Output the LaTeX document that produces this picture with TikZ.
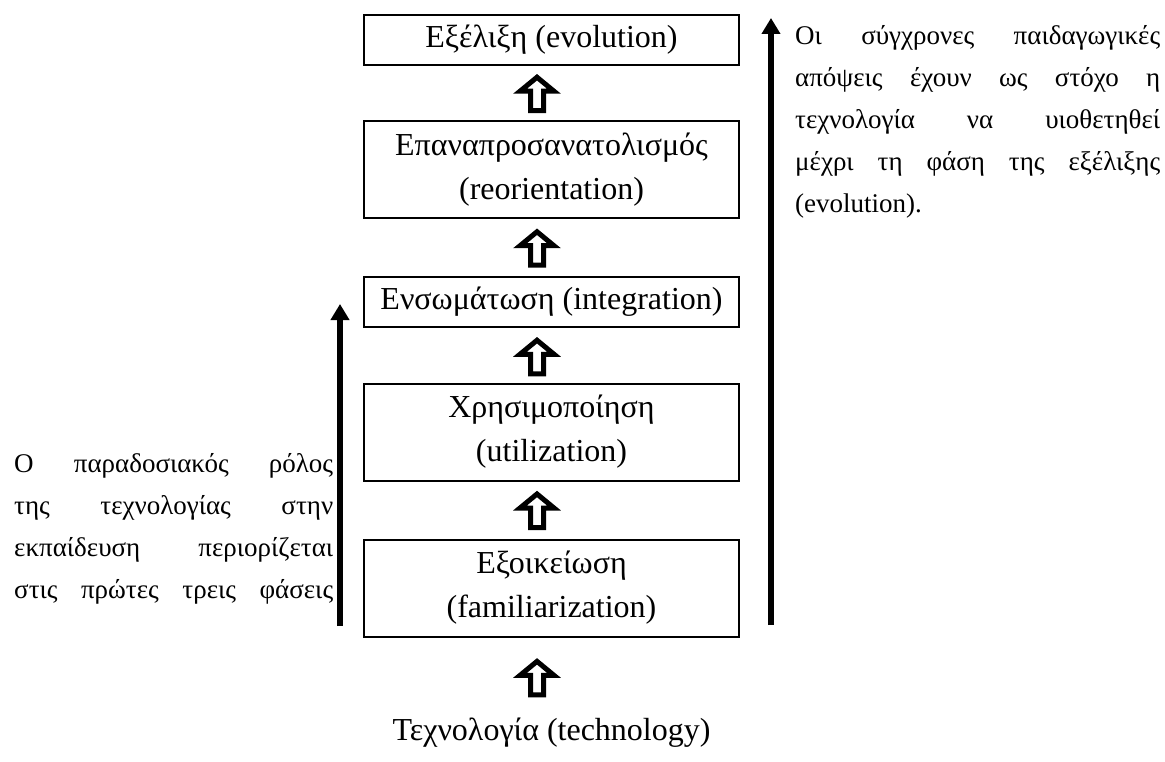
\documentclass[tikz,border=0pt]{standalone}
\usepackage{fontspec}
\setmainfont{Liberation Serif}
\usetikzlibrary{arrows.meta,calc}

\tikzset{
  phase/.style={draw, line width=2pt, minimum width=375pt, inner sep=0pt,
    align=center, font=\fontsize{32}{44}\selectfont},
  onerow/.style={phase, minimum height=50pt},
  tworow/.style={phase, minimum height=97pt},
  note/.style={inner sep=0pt, anchor=base west, align=left,
    font=\fontsize{27}{42}\selectfont},
  sidearrow/.style={line width=6pt, -{Triangle[length=16pt,width=18pt]}},
  uparrow/.pic={
    \draw[line width=5pt, fill=white, line join=miter, miter limit=3]
      (0pt,16pt) -- (17pt,2pt) -- (6.5pt,2pt) -- (6.5pt,-17.5pt)
      -- (-6.5pt,-17.5pt) -- (-6.5pt,2pt) -- (-17pt,2pt) -- cycle;
  }
}
% a justified line: words spread over the full width
\newcommand{\spreadline}[2]{\leavevmode\hbox to #1{#2}}

\begin{document}
\begin{tikzpicture}[x=1pt, y=-1pt]
  \useasboundingbox (0,0) rectangle (1165,762);

  % phases, bottom to top
  \node[onerow] (evo) at (551.5,40) {Εξέλιξη (evolution)};
  \node[tworow] (reo) at (551.5,170) {Επαναπροσανατολισμός\\(reorientation)};
  \node[onerow] (int) at (551.5,302) {Ενσωμάτωση (integration)};
  \node[tworow] (uti) at (551.5,432) {Χρησιμοποίηση\\(utilization)};
  \node[tworow] (fam) at (551.5,588) {Εξοικείωση\\(familiarization)};
  \node[inner sep=0pt, anchor=base, font=\fontsize{32}{44}\selectfont] (tech)
    at (551.5,740) {Τεχνολογία (technology)};

  % hollow arrows between consecutive phases
  \path ($(tech.north)!0.5!(fam.south)+(-14.5,0)$) pic {uparrow};
  \path ($(fam.north)!0.5!(uti.south)+(-14.5,0)$) pic {uparrow};
  \path ($(uti.north)!0.5!(int.south)+(-14.5,1)$) pic {uparrow};
  \path ($(int.north)!0.5!(reo.south)+(-14.5,0)$) pic {uparrow};
  \path ($(reo.north)!0.5!(evo.south)+(-14.5,0)$) pic {uparrow};

  % range arrows
  \coordinate (lbot) at (340,626);
  \coordinate (ltop) at (340,304);
  \coordinate (rbot) at (771,625);
  \coordinate (rtop) at (771,18);
  \draw[sidearrow] (lbot) -- (ltop);
  \draw[sidearrow] (rbot) -- (rtop);

  % side notes
  \node[note, text width=319pt] (trad) at (14,472) {%
    \spreadline{319pt}{Ο\hfill παραδοσιακός\hfill ρόλος}\\
    \spreadline{319pt}{της\hfill τεχνολογίας\hfill στην}\\
    \spreadline{319pt}{εκπαίδευση\hfill περιορίζεται}\\
    \spreadline{319pt}{στις\hfill πρώτες\hfill τρεις\hfill φάσεις}};
  \node[note, text width=365pt] (modern) at (795,45) {%
    \spreadline{365pt}{Οι\hfill σύγχρονες\hfill παιδαγωγικές}\\
    \spreadline{365pt}{απόψεις\hfill έχουν\hfill ως\hfill στόχο\hfill η}\\
    \spreadline{365pt}{τεχνολογία\hfill να\hfill υιοθετηθεί}\\
    \spreadline{365pt}{μέχρι\hfill τη\hfill φάση\hfill της\hfill εξέλιξης}\\
    (evolution).};
\end{tikzpicture}
\end{document}
